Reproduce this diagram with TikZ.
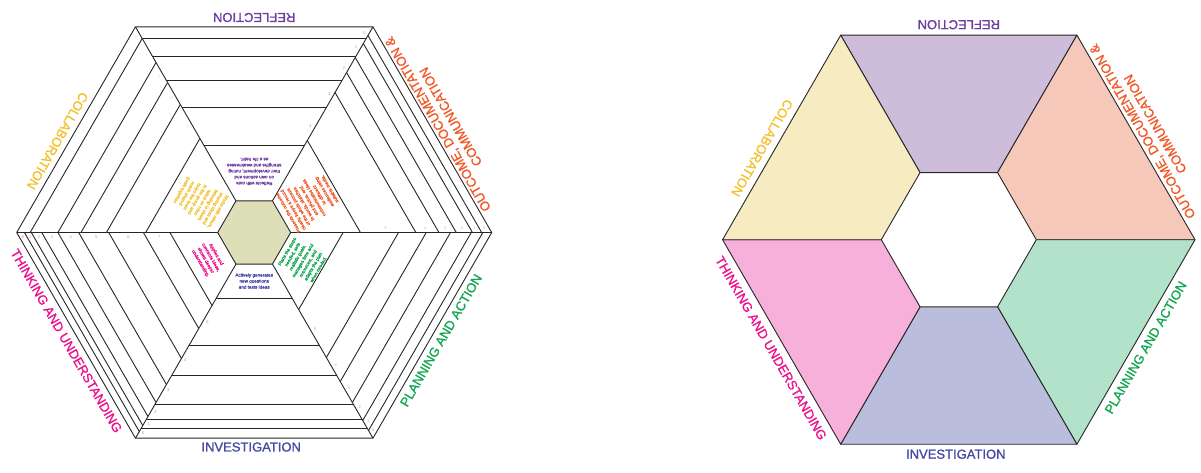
\documentclass[tikz,border=0pt]{standalone}
\usepackage{fontspec}
\setmainfont{Liberation Sans}
\newfontfamily\areafont[FakeBold=1.2]{Liberation Sans}
\newfontfamily\notefont[FakeBold=1.5]{Liberation Sans}
\usepackage{tikz}
\usetikzlibrary{calc}

\definecolor{reflcol}{HTML}{6B3FA0}
\definecolor{outcol}{HTML}{F15A29}
\definecolor{plancol}{HTML}{12A650}
\definecolor{invcol}{HTML}{474AA3}
\definecolor{thinkcol}{HTML}{EC108C}
\definecolor{collcol}{HTML}{F2C230}
\definecolor{reflfill}{HTML}{CDBDDB}
\definecolor{outfill}{HTML}{F6C8BA}
\definecolor{planfill}{HTML}{B3E2CB}
\definecolor{invfill}{HTML}{BBBDDC}
\definecolor{thinkfill}{HTML}{F6B0DA}
\definecolor{collfill}{HTML}{F7EBC1}
\definecolor{corefill}{HTML}{DDDFB8}

\tikzset{
  web/.style={draw=black!85, line width=0.9pt, line join=round},
  area/.style={font=\areafont\fontsize{13}{15}\selectfont, inner sep=0pt, align=center},
  note/.style={font=\notefont\fontsize{4.6}{6}\selectfont, inner sep=0pt, align=center},
  level/.style={font=\fontsize{4}{4}\selectfont, inner sep=0pt, opacity=0.6}
}

\begin{document}
\begin{tikzpicture}[x=1pt, y=1pt]
  \useasboundingbox (0,0) rectangle (1201,-472);
  \coordinate (L) at (254.2,-232.5);
  \coordinate (R) at (958.8,-239.7);

  % rubric web, one set of levels per area
  \begin{scope}[shift={(L)}]
    \foreach \a/\lst/\col in {60/{194,176,152,125,87}/reflcol,
        0/{197,189,175,160,140,92}/outcol,
        300/{198,188,170,149,125,77}/plancol,
        240/{196,187,172,143,113,66}/invcol,
        180/{199,193,184,170,152,126,96,73}/thinkcol,
        120/{194,170,150,128,94}/collcol}{
      \foreach \d [count=\i from 0, remember=\d as \p (initially 205.7)] in \lst {
        \draw[web] ({\a}:{\d/0.866}) -- ({\a+60}:{\d/0.866});
        \node[level, text=\col] (lvl\a-\i) at ($({\a}:{(\p+\d)/1.732})+({\a+120}:5)$) {\i};
      }
    }
    \foreach \a in {0,60,...,300}
      \draw[web] (\a:36.5) -- (\a:237.5);
    \draw[web] (0:237.5) \foreach \a in {60,120,...,300} { -- (\a:237.5) } -- cycle;
    \draw[web, fill=corefill] (0:36.5) \foreach \a in {60,120,...,300} { -- (\a:36.5) } -- cycle;

    \node[note, text=reflcol, rotate=180] (reflnote) at (90:61)
      {Reflects with care\\ on own actions and\\ their development, noting\\ strengths and weaknesses\\ as a life habit.};
    \node[note, text=outcol, rotate=120] (outnote) at (30:63)
      {Presents the outcome\\ clearly, keeps a record\\ of the whole process\\ in words, sketches\\ and photos, and\\ communicates ideas\\ to different\\ audiences using\\ suitable media.};
    \node[note, text=plancol, rotate=60] (plannote) at (-30:56)
      {Plans the steps\\ needed, sets\\ realistic goals,\\ manages time and\\ resources, and\\ adapts the plan\\ when needed.};
    \node[note, text=invcol] (invnote) at (270:48.5)
      {Actively generates\\ new questions\\ and tests ideas};
    \node[note, text=thinkcol, rotate=300] (thinknote) at (210:53)
      {Applies and\\ connects ideas,\\ shows deeper\\ understanding.};
    \node[note, text=collcol, rotate=240] (collnote) at (150:63)
      {Works with others,\\ sharing ideas and\\ listening to views,\\ takes on roles\\ in the group and\\ helps the team\\ reach shared\\ goals together.};
  \end{scope}

  % coloured areas
  \begin{scope}[shift={(R)}]
    \foreach \a/\col in {60/reflfill, 0/outfill, 300/planfill, 240/invfill, 180/thinkfill, 120/collfill}
      \filldraw[web, fill=\col] (\a:77.5) -- (\a:236.2) -- ({\a+60}:236.2) -- ({\a+60}:77.5) -- cycle;
  \end{scope}

  % area names round both hexagons
  \foreach \c/\s in {L/l, R/r}{
    \node[area, text=reflcol, rotate=180] (refl\s) at ($(\c)+(90:215)$) {REFLECTION};
    \node[area, text=outcol, rotate=120] (out\s) at ($(\c)+(30.5:220.5)$) {OUTCOME, DOCUMENTATION \&\\ COMMUNICATION};
    \node[area, text=plancol, rotate=60] (plan\s) at ($(\c)+(-30:215.7)$) {PLANNING AND ACTION};
    \node[area, text=invcol] (inv\s) at ($(\c)+(-3,-214.5)$) {INVESTIGATION};
    \node[area, text=thinkcol, rotate=300] (think\s) at ($(\c)+(210:216.8)$) {THINKING AND UNDERSTANDING};
    \node[area, text=collcol, rotate=240] (coll\s) at ($(\c)+(155:217)$) {COLLABORATION};
  }
\end{tikzpicture}
\end{document}
